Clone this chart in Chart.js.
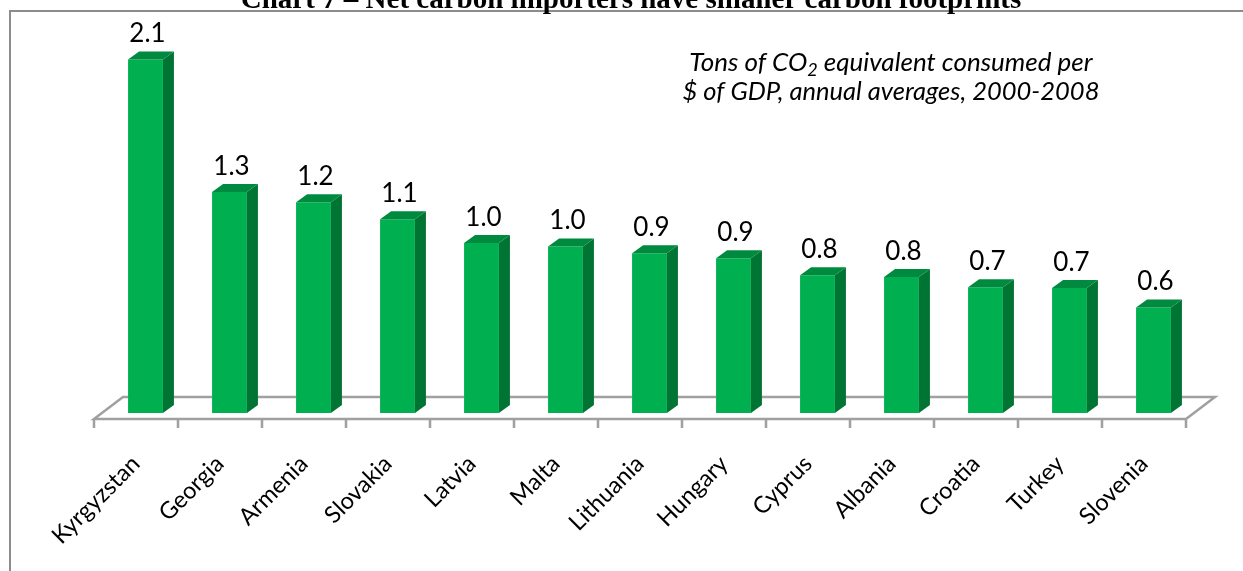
<!DOCTYPE html>
<html>
<head>
<meta charset="utf-8">
<script src="https://cdn.jsdelivr.net/npm/chart.js@4"></script>
<style>
  html, body { margin: 0; padding: 0; background: #fff; }
  #wrap { width: 1243px; height: 571px; position: relative; }
</style>
</head>
<body>
<div id="wrap"><canvas id="chart"></canvas></div>
<script>
// Consumption-based emissions intensity by country
const countries = ['Kyrgyzstan', 'Georgia', 'Armenia', 'Slovakia', 'Latvia', 'Malta', 'Lithuania',
                   'Hungary', 'Cyprus', 'Albania', 'Croatia', 'Turkey', 'Slovenia'];
const footprint = [2.08, 1.30, 1.24, 1.14, 1.00, 0.98, 0.94, 0.91, 0.81, 0.80, 0.74, 0.735, 0.62];

const titleText = 'Chart 7 \u2013 Net carbon importers have smaller carbon footprints';
const noteLine1 = ['Tons of CO', '2', ' equivalent consumed per'];
const noteLine2 = '$ of GDP, annual averages, 2000-2008';

// Colours of the extruded bars
const faceFront = '#00B050';
const faceTop = '#008A3F';
const faceSide = '#007533';

// Extrusion depth of each bar and of the floor
const barDepthX = 11, barDepthY = 8;
const floorFront = 6, floorBack = 16, floorDepthX = 29, floorShift = 9.5;

const boxed3D = {
  id: 'boxed3D',
  beforeDraw(chart) {
    const ctx = chart.ctx;
    ctx.save();
    // outer frame
    ctx.strokeStyle = '#8c8c8c';
    ctx.lineWidth = 2;
    ctx.beginPath();
    ctx.moveTo(10, 571);
    ctx.lineTo(10, 11);
    ctx.lineTo(1243, 11);
    ctx.stroke();
    // heading, sitting on the frame line
    ctx.fillStyle = '#000';
    ctx.font = 'bold 29px "Liberation Serif"';
    ctx.textAlign = 'center';
    ctx.textBaseline = 'alphabetic';
    ctx.fillText(titleText, 631, 8);
    ctx.restore();
  },
  beforeDatasetsDraw(chart) {
    const ctx = chart.ctx;
    const xs = chart.scales.x;
    const base = chart.scales.y.getPixelForValue(0);
    const n = countries.length;
    const half = (xs.getPixelForValue(1) - xs.getPixelForValue(0)) / 2;
    const fl = xs.getPixelForValue(0) - half - floorShift;
    const fr = xs.getPixelForValue(n - 1) + half - floorShift;
    const fy = base + floorFront, by = base - floorBack;
    ctx.save();
    ctx.strokeStyle = '#a0a0a0';
    ctx.lineWidth = 2.5;
    ctx.beginPath();
    ctx.moveTo(fl, fy);
    ctx.lineTo(fr, fy);
    ctx.lineTo(fr + floorDepthX, by);
    ctx.lineTo(fl + floorDepthX, by);
    ctx.closePath();
    for (let i = 0; i <= n; i++) {
      const x = fl + 2 * half * i;
      ctx.moveTo(x, fy);
      ctx.lineTo(x, fy + 9);
    }
    ctx.stroke();
    ctx.restore();
  },
  afterDatasetsDraw(chart) {
    const ctx = chart.ctx;
    const meta = chart.getDatasetMeta(0);
    ctx.save();
    meta.data.forEach((bar, i) => {
      const p = bar.getProps(['x', 'y', 'width', 'base'], true);
      const xl = p.x - p.width / 2, xr = p.x + p.width / 2;
      // side face
      ctx.fillStyle = faceSide;
      ctx.beginPath();
      ctx.moveTo(xr, p.base);
      ctx.lineTo(xr, p.y);
      ctx.lineTo(xr + barDepthX, p.y - barDepthY);
      ctx.lineTo(xr + barDepthX, p.base - barDepthY);
      ctx.closePath();
      ctx.fill();
      // top face
      ctx.fillStyle = faceTop;
      ctx.beginPath();
      ctx.moveTo(xl, p.y);
      ctx.lineTo(xr, p.y);
      ctx.lineTo(xr + barDepthX, p.y - barDepthY);
      ctx.lineTo(xl + barDepthX, p.y - barDepthY);
      ctx.closePath();
      ctx.fill();
      // value label
      ctx.fillStyle = '#000';
      ctx.font = '26px Lato';
      ctx.textAlign = 'center';
      ctx.textBaseline = 'alphabetic';
      ctx.fillText(footprint[i].toFixed(1), p.x + 2, p.y - 17.5);
    });
    ctx.restore();
  },
  afterDraw(chart) {
    const ctx = chart.ctx;
    ctx.save();
    ctx.fillStyle = '#000';
    ctx.textBaseline = 'alphabetic';
    ctx.textAlign = 'left';
    const big = 'italic 26px Lato', small = 'italic 18px Lato';
    ctx.font = big;
    const w0 = ctx.measureText(noteLine1[0]).width;
    const w2 = ctx.measureText(noteLine1[2]).width;
    ctx.font = small;
    const w1 = ctx.measureText(noteLine1[1]).width;
    const cx = 891;
    let x = cx - (w0 + w1 + w2) / 2;
    ctx.font = big;
    ctx.fillText(noteLine1[0], x, 70.5);
    ctx.font = small;
    ctx.fillText(noteLine1[1], x + w0, 76);
    ctx.font = big;
    ctx.fillText(noteLine1[2], x + w0 + w1, 70.5);
    ctx.textAlign = 'center';
    ctx.font = 'italic 25.5px Lato';
    ctx.fillText(noteLine2, cx, 100);
    ctx.restore();
  }
};

new Chart(document.getElementById('chart'), {
  type: 'bar',
  data: {
    labels: countries,
    datasets: [{
      data: footprint,
      backgroundColor: faceFront,
      borderWidth: 0,
      categoryPercentage: 1,
      barPercentage: 0.415
    }]
  },
  options: {
    responsive: true,
    maintainAspectRatio: false,
    animation: false,
    layout: { padding: { left: 103.5, right: 47.5, top: 39, bottom: 0 } },
    plugins: {
      legend: { display: false },
      tooltip: { enabled: false },
      title: { display: false }
    },
    scales: {
      y: { display: false, min: 0, max: 2.2 },
      x: {
        grid: { display: false },
        border: { display: false },
        ticks: {
          autoSkip: false,
          minRotation: 45,
          maxRotation: 45,
          labelOffset: -9.5,
          padding: 29,
          color: '#000',
          font: { family: 'Lato', size: 23.5 }
        },
        afterFit(scale) {
          scale.height = 158;
          scale.paddingLeft = 0;
          scale.paddingRight = 0;
        }
      }
    }
  },
  plugins: [boxed3D]
});
</script>
</body>
</html>
